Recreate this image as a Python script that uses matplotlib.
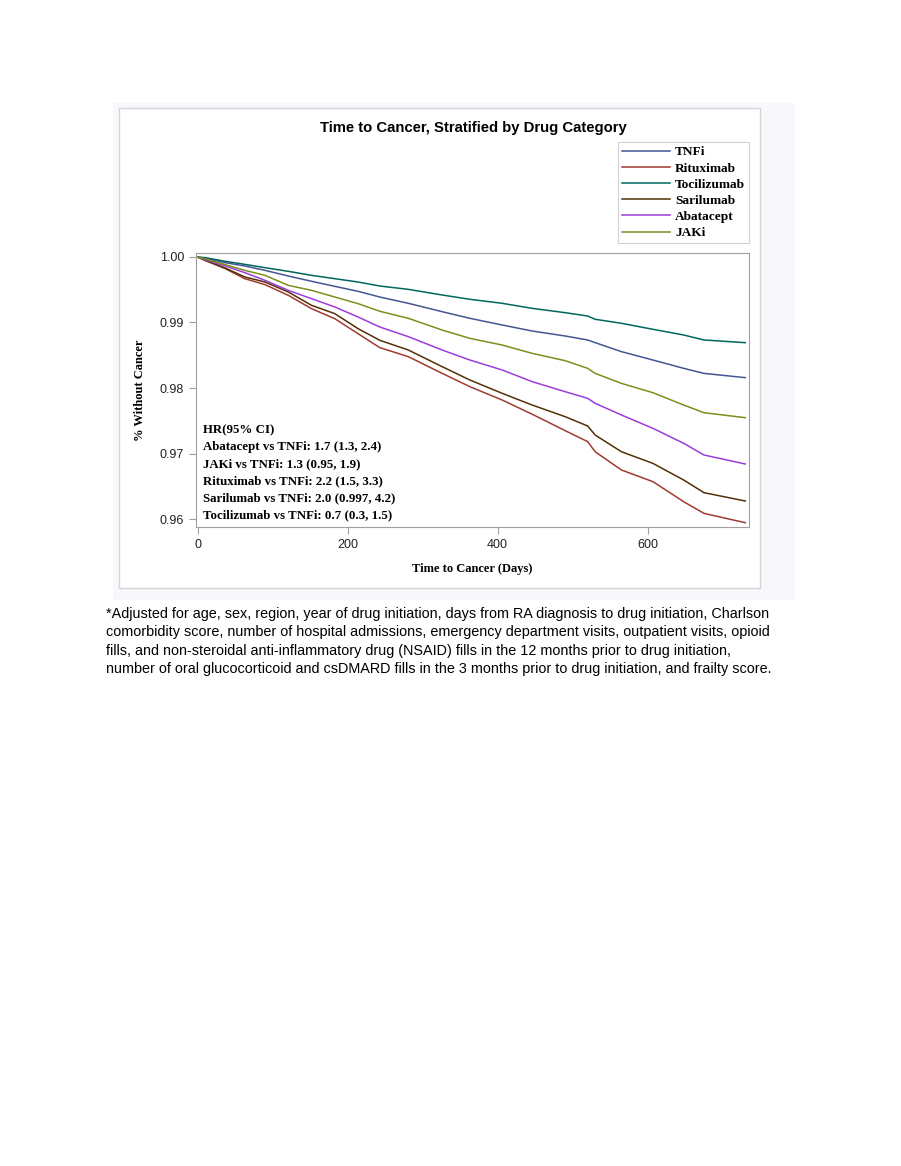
import matplotlib
matplotlib.use('Agg')
import matplotlib.pyplot as plt
from matplotlib.patches import Rectangle

# survival estimates
days = [0, 10, 37, 63, 90, 121, 152, 183, 214, 243, 281, 326, 363, 406, 446, 490, 520, 530, 565, 607, 648, 675, 730]
tnfi = [1.0, 0.9998, 0.99913, 0.99863, 0.99796, 0.99710, 0.99629, 0.99552, 0.99476, 0.99389, 0.99293, 0.99165,
        0.99064, 0.98962, 0.98870, 0.98794, 0.98733, 0.98692, 0.98555, 0.98427, 0.98300, 0.98223, 0.98158]
rituximab = [1.0, 0.9995, 0.99822, 0.99669, 0.99578, 0.99415, 0.99211, 0.99058, 0.98829, 0.98616, 0.98478, 0.98224,
             0.98020, 0.97817, 0.97600, 0.97349, 0.97181, 0.97027, 0.96748, 0.96570, 0.96264, 0.96086, 0.95944]
tocilizumab = [1.0, 0.9999, 0.99934, 0.99888, 0.99837, 0.99781, 0.99720, 0.99669, 0.99618, 0.99557, 0.99506, 0.99420,
               0.99354, 0.99293, 0.99216, 0.99150, 0.99099, 0.99049, 0.98988, 0.98896, 0.98809, 0.98733, 0.98692]
sarilumab = [1.0, 0.9995, 0.99832, 0.99695, 0.99618, 0.99466, 0.99262, 0.99135, 0.98906, 0.98728, 0.98580, 0.98326,
             0.98122, 0.97919, 0.97740, 0.97562, 0.97420, 0.97282, 0.97027, 0.96849, 0.96595, 0.96402, 0.96275]
abatacept = [1.0, 0.9996, 0.99863, 0.99761, 0.99644, 0.99491, 0.99364, 0.99237, 0.99084, 0.98931, 0.98784, 0.98580,
             0.98427, 0.98275, 0.98097, 0.97944, 0.97842, 0.97766, 0.97588, 0.97384, 0.97155, 0.96977, 0.96840]
jaki = [1.0, 0.9997, 0.99883, 0.99796, 0.99720, 0.99567, 0.99491, 0.99389, 0.99288, 0.99171, 0.99064, 0.98885,
        0.98758, 0.98656, 0.98529, 0.98417, 0.98300, 0.98223, 0.98071, 0.97928, 0.97740, 0.97623, 0.97547]

names = ['TNFi', 'Rituximab', 'Tocilizumab', 'Sarilumab', 'Abatacept', 'JAKi']
series = [tnfi, rituximab, tocilizumab, sarilumab, abatacept, jaki]
colors = ['#445694', '#A23A2E', '#01665E', '#543005', '#9D3CDB', '#7F8E1F']

hr_lines = ['HR(95% CI)',
            'Abatacept vs TNFi: 1.7 (1.3, 2.4)',
            'JAKi vs TNFi: 1.3 (0.95, 1.9)',
            'Rituximab vs TNFi: 2.2 (1.5, 3.3)',
            'Sarilumab vs TNFi: 2.0 (0.997, 4.2)',
            'Tocilizumab vs TNFi: 0.7 (0.3, 1.5)']

note = ['*Adjusted for age, sex, region, year of drug initiation, days from RA diagnosis to drug initiation, Charlson',
        'comorbidity score, number of hospital admissions, emergency department visits, outpatient visits, opioid',
        'fills, and non-steroidal anti-inflammatory drug (NSAID) fills in the 12 months prior to drug initiation,',
        'number of oral glucocorticoid and csDMARD fills in the 3 months prior to drug initiation, and frailty score.']

W, H = 901, 1166
def fx(p):
    return p / W
def fy(p):
    return 1 - p / H

sans = ['Liberation Sans', 'DejaVu Sans']
serif = ['Liberation Serif', 'DejaVu Serif']

fig = plt.figure(figsize=(9.01, 11.66), dpi=100)

# faint page panel and graph frame
fig.patches.append(Rectangle((fx(113), fy(600)), fx(795) - fx(113), fy(103) - fy(600),
                             transform=fig.transFigure, facecolor='#f8f8fc', edgecolor='none', zorder=-2))
fig.patches.append(Rectangle((fx(119), fy(588)), fx(760) - fx(119), fy(108) - fy(588),
                             transform=fig.transFigure, facecolor='white', edgecolor='#d4d4d4', lw=1, zorder=-1))

ax = fig.add_axes([fx(196), fy(527), fx(749) - fx(196), fy(253) - fy(527)])
ax.set_zorder(1)
for name, vals, c in zip(names, series, colors):
    ax.plot(days, vals, color=c, lw=1.1, label=name)

ax.set_xlim(-2, 735)
ax.set_ylim(0.95878, 1.00061)
ax.set_xticks([0, 200, 400, 600])
ax.set_yticks([0.96, 0.97, 0.98, 0.99, 1.00])
ax.set_yticklabels(['0.96', '0.97', '0.98', '0.99', '1.00'])
for s in ax.spines.values():
    s.set_color('#a0a0a0')
ax.tick_params(colors='#a0a0a0', labelcolor='#222222', length=5, width=0.8, labelsize=9)
for lab in ax.get_xticklabels() + ax.get_yticklabels():
    lab.set_family(sans)
ax.set_xlabel('Time to Cancer (Days)', family=serif, fontweight='bold', fontsize=9, labelpad=9)
ax.set_ylabel('% Without Cancer', family=serif, fontweight='bold', fontsize=9, labelpad=10)

fig.text(fx(473), fy(128), 'Time to Cancer, Stratified by Drug Category', family=sans, fontweight='bold',
         fontsize=10.7, ha='center', va='center')

leg = fig.legend(loc='upper right', bbox_to_anchor=(fx(749), fy(142)), frameon=True, fancybox=False,
                 prop={'family': serif, 'weight': 'bold', 'size': 9.6}, handlelength=3.6, labelspacing=0.29,
                 borderpad=0.3, handletextpad=0.35, borderaxespad=0)
leg.get_frame().set_edgecolor('#c8c8c8')
leg.get_frame().set_linewidth(0.8)

for i, t in enumerate(hr_lines):
    fig.text(fx(203), fy(430 + i * 17), t, family=serif, fontweight='bold', fontsize=9.3, va='center')

for i, t in enumerate(note):
    fig.text(fx(106), fy(614 + i * 18.3), t, family=sans, fontsize=10.4, va='center')

fig.savefig('out.png', dpi=100)
